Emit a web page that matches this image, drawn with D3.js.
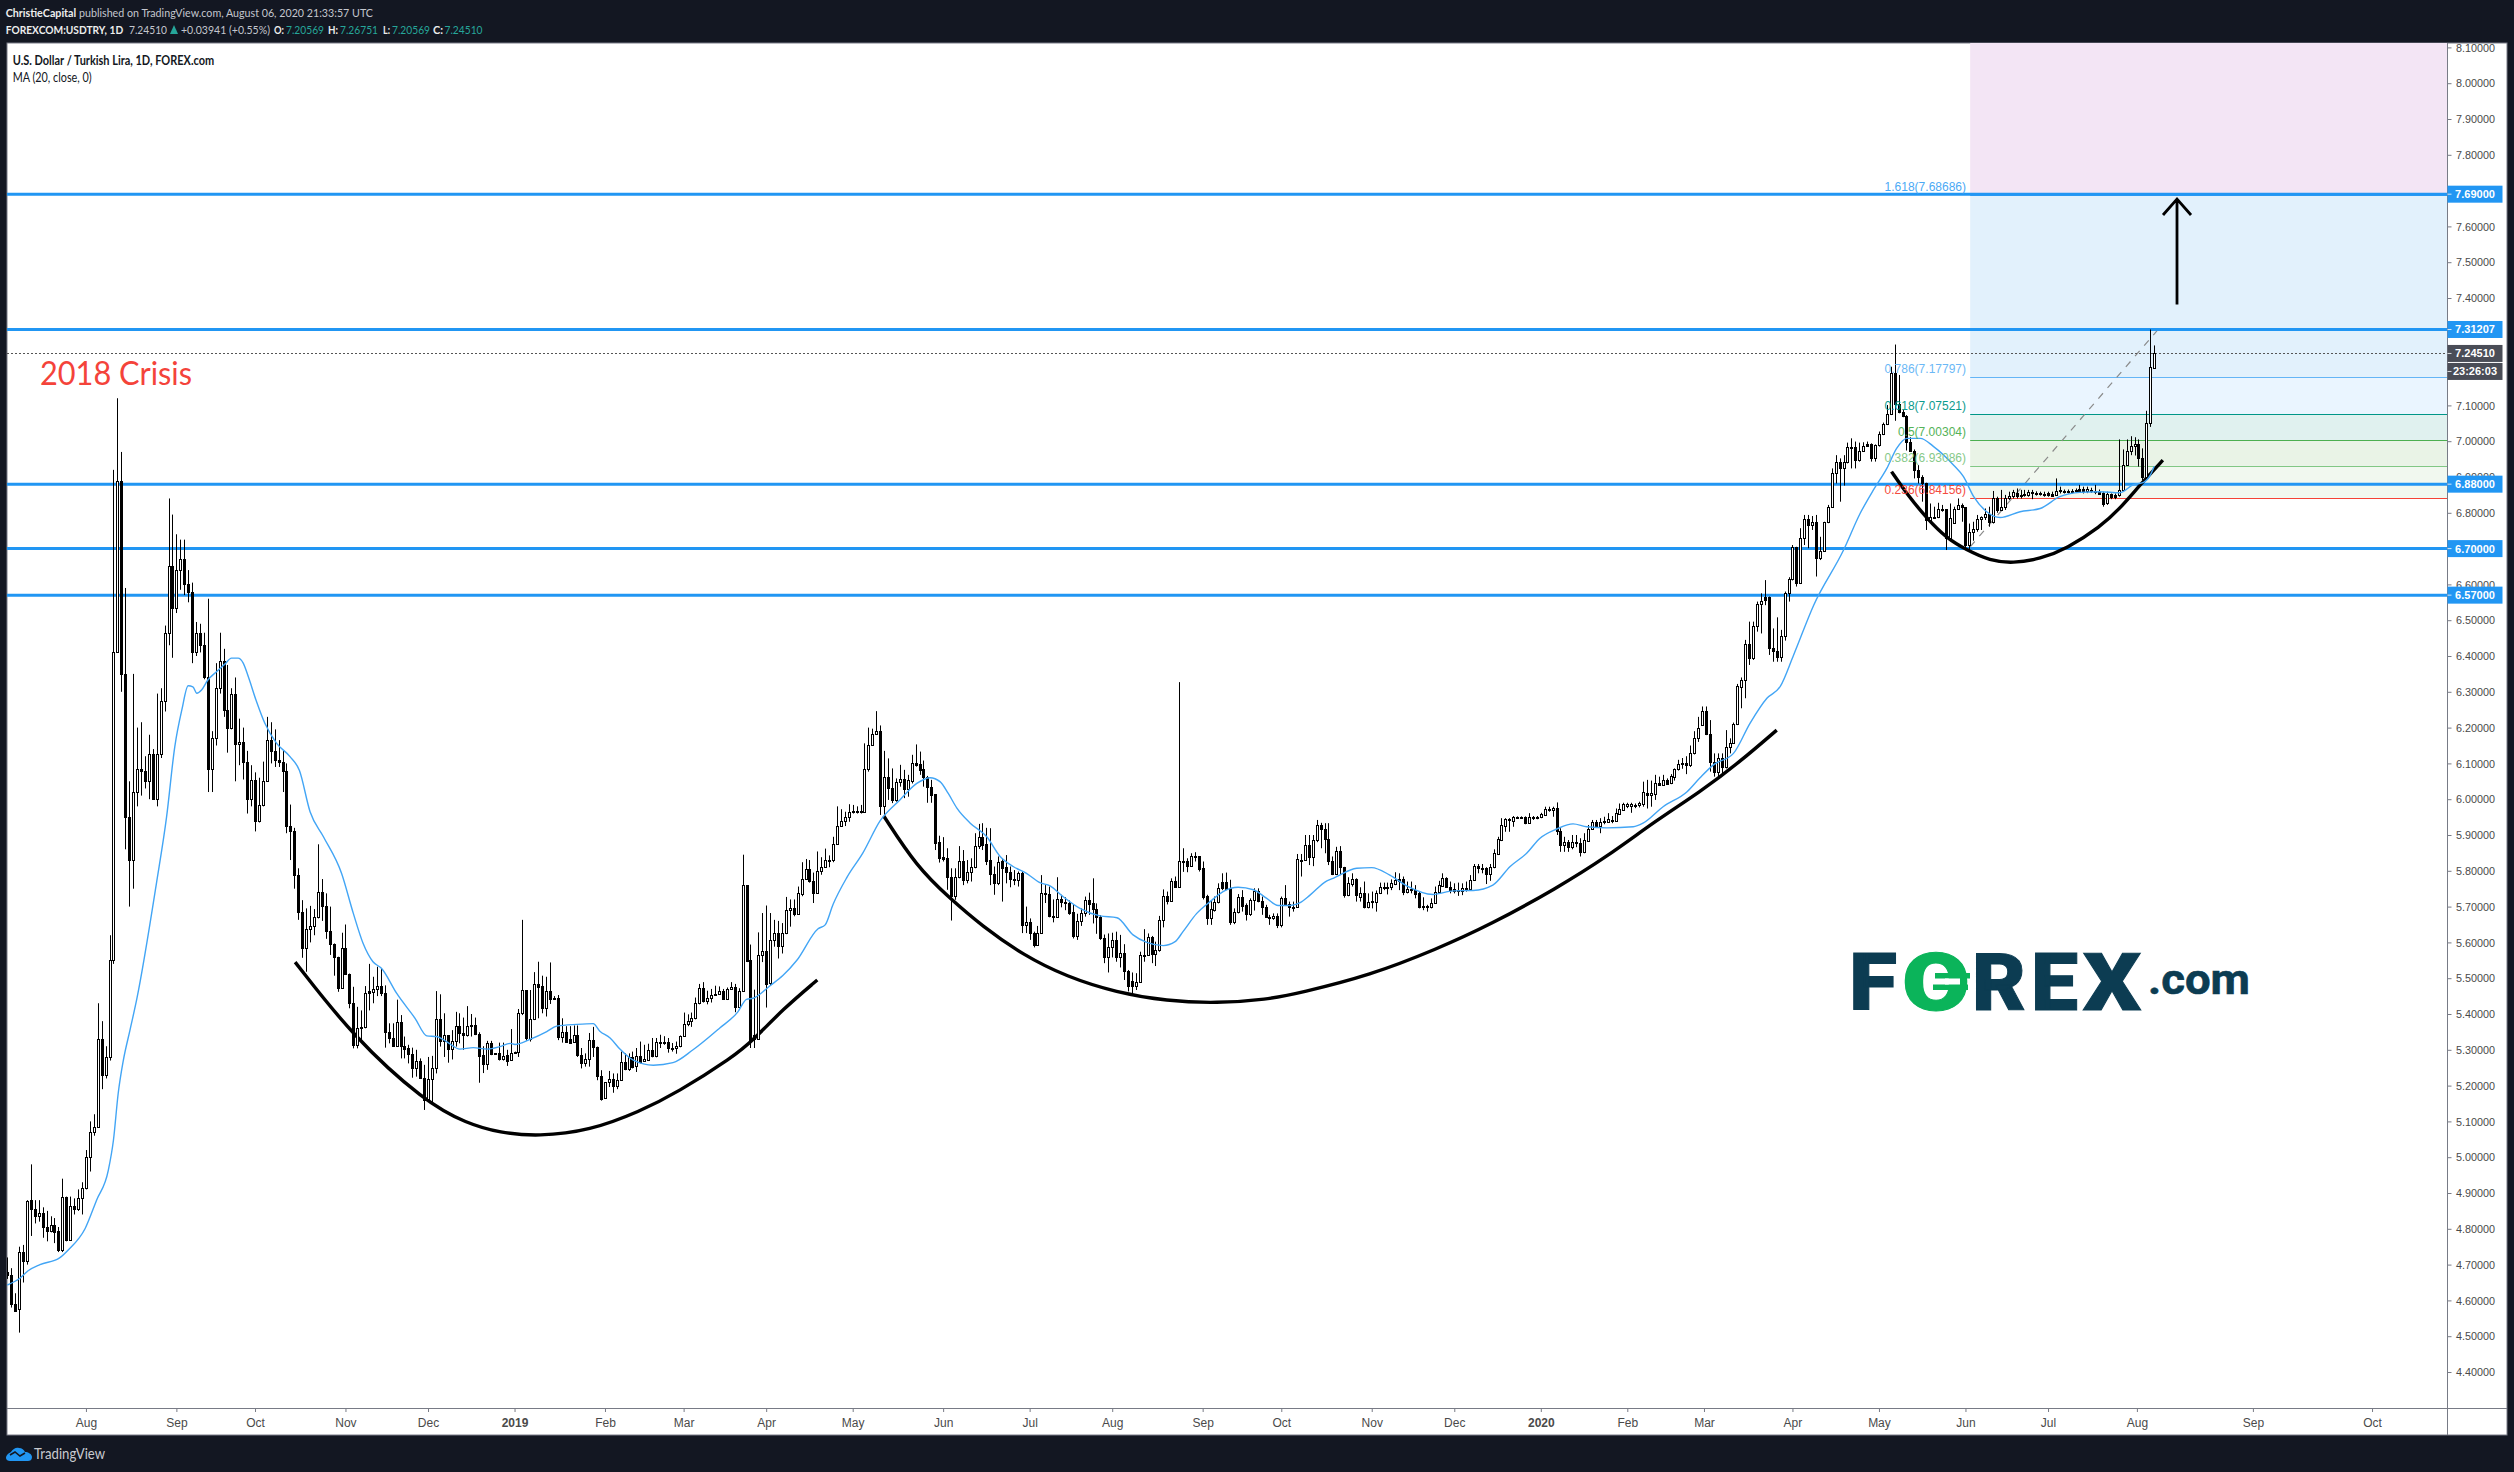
<!DOCTYPE html>
<html><head><meta charset="utf-8">
<script src="https://cdn.jsdelivr.net/npm/d3@7/dist/d3.min.js"></script>
<style>html,body{margin:0;padding:0;background:#131722;overflow:hidden}svg{display:block}</style>
</head><body><svg id="c" width="2514" height="1472"></svg>
<script>
// Daily candles: [open, high, low, close]
const bars2018 = [
[4.68,4.72,4.66,4.67],[4.67,4.69,4.58,4.59],[4.59,4.62,4.57,4.57],[4.575,4.75,4.51,4.735],[4.735,4.755,4.65,4.71],
[4.71,4.88,4.70,4.878],[4.88,4.98,4.78,4.855],[4.855,4.88,4.815,4.835],[4.835,4.88,4.82,4.845],[4.845,4.86,4.775,4.805],
[4.805,4.85,4.765,4.795],[4.795,4.835,4.79,4.81],[4.81,4.83,4.76,4.79],[4.795,4.805,4.735,4.74],[4.74,4.94,4.735,4.89],
[4.89,4.89,4.765,4.77],[4.77,4.89,4.77,4.865],[4.865,4.885,4.84,4.855],[4.855,4.91,4.85,4.885],[4.885,4.93,4.84,4.915],
[4.915,5.02,4.91,5.0],[5.0,5.1,4.96,5.07],[5.07,5.12,5.06,5.085],[5.085,5.43,5.085,5.33],[5.33,5.38,5.19,5.23],
[5.23,5.31,5.22,5.28],[5.28,5.62,5.27,5.55],[5.55,6.92,5.54,6.41],[6.41,7.12,6.41,6.89],[6.89,6.97,6.30,6.35],
[6.35,6.59,5.86,5.95],[5.95,6.05,5.70,5.83],[5.83,6.35,5.75,6.02],[6.02,6.20,5.98,6.085],[6.085,6.215,6.01,6.08],
[6.08,6.12,6.03,6.05],[6.05,6.18,6.0,6.125],[6.125,6.14,6.0,6.0],[6.0,6.295,5.98,6.125],[6.125,6.31,6.115,6.275],
[6.275,6.485,6.245,6.465],[6.465,6.84,6.43,6.65],[6.65,6.795,6.395,6.535],[6.535,6.74,6.52,6.64],[6.64,6.725,6.585,6.67],
[6.67,6.725,6.57,6.60],[6.60,6.64,6.55,6.58],[6.58,6.605,6.38,6.41],[6.41,6.495,6.40,6.465],[6.465,6.49,6.41,6.43],
[6.43,6.465,6.335,6.34],[6.34,6.56,6.02,6.085],[6.085,6.19,6.02,6.17],[6.17,6.38,6.15,6.31],[6.31,6.465,6.295,6.385],
[6.385,6.42,6.23,6.25],[6.25,6.375,6.13,6.20],[6.20,6.31,6.195,6.295],[6.295,6.34,6.05,6.155],[6.155,6.225,6.095,6.16],
[6.16,6.20,6.055,6.105],[6.105,6.135,5.96,6.0],[6.0,6.095,5.98,6.055],[6.055,6.075,5.91,5.94],[5.94,6.06,5.935,5.985],
[5.985,6.105,5.98,6.05],[6.05,6.23,6.05,6.165],[6.165,6.215,6.10,6.135],[6.135,6.195,6.09,6.11],[6.11,6.165,6.09,6.105],
[6.105,6.135,6.02,6.08],[6.08,6.10,5.905,5.925],[5.925,5.985,5.83,5.91],[5.91,5.92,5.75,5.787],[5.787,5.807,5.663,5.686],
[5.686,5.718,5.557,5.585],[5.585,5.695,5.518,5.637],[5.637,5.702,5.60,5.646],[5.646,5.693,5.62,5.67],[5.67,5.874,5.667,5.74],
[5.74,5.777,5.66,5.703],[5.703,5.737,5.61,5.633],[5.633,5.70,5.565,5.595],[5.595,5.597,5.507,5.56],[5.56,5.56,5.462,5.473],
[5.473,5.627,5.47,5.583],[5.583,5.65,5.509,5.512],[5.512,5.513,5.416,5.43],[5.43,5.476,5.304,5.313],[5.313,5.42,5.304,5.36],
[5.36,5.41,5.32,5.365],[5.363,5.478,5.36,5.46],[5.464,5.54,5.41,5.46],[5.462,5.504,5.43,5.469],[5.469,5.532,5.45,5.478],
[5.478,5.527,5.45,5.46],[5.46,5.48,5.306,5.35],[5.35,5.374,5.318,5.332],[5.332,5.374,5.31,5.31],[5.31,5.44,5.31,5.378],
[5.378,5.397,5.276,5.31],[5.31,5.337,5.276,5.303],[5.305,5.314,5.262,5.287],[5.287,5.306,5.222,5.248],[5.248,5.30,5.225,5.27],
[5.27,5.276,5.22,5.222],[5.222,5.258,5.132,5.16],[5.162,5.28,5.16,5.218],[5.218,5.283,5.15,5.25],[5.25,5.464,5.234,5.386],
[5.386,5.455,5.309,5.325],[5.325,5.402,5.28,5.341],[5.341,5.341,5.264,5.303],[5.303,5.355,5.273,5.325],[5.325,5.406,5.309,5.366],
[5.366,5.402,5.318,5.348],[5.348,5.39,5.30,5.34],[5.34,5.422,5.337,5.366],[5.366,5.40,5.337,5.37],[5.37,5.39,5.341,5.344],
[5.344,5.349,5.208,5.284],[5.285,5.31,5.235,5.26],[5.26,5.325,5.244,5.318],[5.318,5.325,5.285,5.288],[5.29,5.29,5.287,5.288],
[5.29,5.32,5.27,5.275],[5.275,5.32,5.27,5.284],[5.285,5.30,5.255,5.27],[5.272,5.358,5.27,5.29]
];
const bars2019 = [
[5.293,5.295,5.29,5.29],[5.293,5.414,5.28,5.402],[5.402,5.663,5.397,5.467],[5.467,5.467,5.325,5.332],[5.33,5.467,5.323,5.385],
[5.385,5.517,5.383,5.483],[5.483,5.546,5.388,5.476],[5.478,5.507,5.402,5.418],[5.418,5.504,5.393,5.464],[5.465,5.544,5.428,5.442],
[5.446,5.45,5.44,5.442],[5.446,5.453,5.327,5.337],[5.336,5.388,5.32,5.349],[5.349,5.366,5.32,5.323],[5.33,5.366,5.32,5.32],
[5.323,5.368,5.32,5.34],[5.342,5.368,5.28,5.286],[5.286,5.305,5.248,5.262],[5.262,5.29,5.253,5.273],[5.273,5.347,5.253,5.326],
[5.326,5.364,5.28,5.307],[5.309,5.309,5.215,5.226],[5.226,5.243,5.158,5.163],[5.165,5.21,5.163,5.21],[5.21,5.241,5.196,5.218],
[5.218,5.234,5.18,5.2],[5.2,5.234,5.19,5.215],[5.215,5.295,5.213,5.265],[5.265,5.29,5.243,5.246],[5.246,5.29,5.241,5.281],
[5.279,5.295,5.248,5.253],[5.254,5.305,5.238,5.284],[5.284,5.323,5.262,5.267],[5.27,5.314,5.267,5.273],[5.272,5.317,5.27,5.30],
[5.30,5.333,5.279,5.283],[5.283,5.333,5.279,5.322],[5.322,5.342,5.305,5.32],[5.32,5.338,5.314,5.323],[5.323,5.333,5.292,5.305],
[5.305,5.319,5.295,5.303],[5.305,5.323,5.289,5.31],[5.31,5.34,5.307,5.338],[5.338,5.404,5.336,5.373],[5.373,5.399,5.366,5.38],
[5.38,5.404,5.364,5.388],[5.388,5.446,5.385,5.43],[5.43,5.484,5.427,5.474],[5.474,5.489,5.432,5.437],[5.437,5.465,5.427,5.446],
[5.446,5.47,5.432,5.454],[5.455,5.479,5.451,5.456],[5.456,5.477,5.453,5.465],[5.465,5.47,5.44,5.441],[5.441,5.474,5.439,5.47],
[5.47,5.489,5.467,5.476],[5.476,5.484,5.405,5.42],[5.42,5.472,5.418,5.465],[5.465,5.845,5.462,5.76],[5.76,5.76,5.545,5.548],
[5.55,5.594,5.305,5.328],[5.34,5.468,5.305,5.33],[5.33,5.628,5.328,5.564],[5.564,5.682,5.545,5.576],[5.576,5.703,5.418,5.484],
[5.486,5.682,5.479,5.606],[5.606,5.663,5.588,5.625],[5.625,5.66,5.555,5.59],[5.59,5.654,5.569,5.625],[5.625,5.727,5.623,5.69],
[5.69,5.72,5.644,5.696],[5.696,5.72,5.673,5.68],[5.68,5.756,5.678,5.737],[5.734,5.824,5.729,5.778],[5.778,5.833,5.776,5.805],
[5.805,5.83,5.767,5.772],[5.772,5.795,5.71,5.739],[5.739,5.854,5.737,5.80],[5.80,5.838,5.789,5.811],[5.811,5.862,5.809,5.83],
[5.83,5.843,5.81,5.83],[5.83,5.895,5.824,5.874],[5.874,5.98,5.872,5.926],[5.926,5.972,5.924,5.939],[5.939,5.965,5.925,5.95],
[5.95,5.986,5.937,5.965],[5.967,5.984,5.96,5.968],[5.966,5.98,5.96,5.968],[5.966,5.984,5.96,5.967],[5.965,6.156,5.963,6.083],
[6.083,6.20,6.077,6.152],[6.152,6.197,6.15,6.182],[6.182,6.246,6.18,6.19],[6.19,6.206,5.956,5.982],[5.981,6.135,5.956,6.061],
[6.061,6.114,5.998,6.03],[6.03,6.086,5.989,5.998],[5.998,6.058,5.993,6.047],[6.047,6.096,6.035,6.056],[6.056,6.082,6.003,6.028],
[6.028,6.068,6.007,6.054],[6.052,6.124,6.044,6.10],[6.10,6.153,6.091,6.096],[6.098,6.133,6.068,6.082],[6.084,6.108,6.035,6.063],
[6.063,6.065,5.99,6.033],[6.033,6.054,5.99,6.012],[6.014,6.014,5.858,5.879],[5.88,5.898,5.823,5.837],[5.838,5.894,5.826,5.833],
[5.835,5.863,5.747,5.782],[5.782,5.807,5.661,5.73],[5.73,5.807,5.719,5.782],[5.782,5.869,5.779,5.828],[5.828,5.858,5.76,5.774],
[5.774,5.83,5.765,5.798],[5.798,5.835,5.77,5.81],[5.81,5.905,5.807,5.868],[5.868,5.931,5.861,5.894],[5.894,5.933,5.858,5.872],
[5.875,5.92,5.816,5.828],[5.83,5.919,5.76,5.79],[5.79,5.812,5.733,5.765],[5.765,5.84,5.76,5.824],[5.826,5.835,5.714,5.807],
[5.81,5.844,5.765,5.796],[5.798,5.812,5.754,5.776],[5.776,5.802,5.76,5.773],[5.773,5.798,5.756,5.793],[5.793,5.798,5.626,5.649],
[5.649,5.70,5.626,5.658],[5.658,5.667,5.607,5.626],[5.626,5.63,5.586,5.593],[5.593,5.646,5.59,5.627],[5.627,5.788,5.625,5.737],
[5.737,5.76,5.71,5.734],[5.734,5.756,5.67,5.675],[5.675,5.72,5.656,5.672],[5.672,5.782,5.67,5.72],[5.72,5.733,5.698,5.714],
[5.714,5.726,5.69,5.709],[5.711,5.717,5.677,5.683],[5.685,5.705,5.611,5.618],[5.618,5.68,5.607,5.66],[5.66,5.695,5.646,5.681],
[5.681,5.728,5.672,5.719],[5.719,5.739,5.677,5.707],[5.709,5.779,5.653,5.692],[5.694,5.709,5.624,5.672],[5.672,5.676,5.607,5.613],
[5.613,5.622,5.542,5.56],[5.56,5.625,5.516,5.586],[5.586,5.627,5.558,5.607],[5.607,5.63,5.546,5.558],[5.558,5.621,5.53,5.571],
[5.571,5.595,5.495,5.521],[5.521,5.523,5.463,5.479],[5.493,5.516,5.453,5.479],[5.479,5.514,5.467,5.49],[5.49,5.574,5.489,5.565],
[5.565,5.637,5.546,5.566],[5.565,5.625,5.562,5.616],[5.616,5.618,5.542,5.568],[5.568,5.602,5.534,5.579],[5.579,5.674,5.574,5.663],
[5.663,5.748,5.642,5.731],[5.731,5.742,5.706,5.717],[5.717,5.779,5.714,5.772],[5.772,5.784,5.754,5.756],[5.756,6.327,5.754,5.827],
[5.827,5.863,5.797,5.828],[5.827,5.835,5.796,5.814],[5.814,5.849,5.812,5.84],[5.84,5.852,5.826,5.841],[5.84,5.84,5.798,5.805],
[5.807,5.826,5.72,5.728],[5.73,5.733,5.649,5.667],[5.667,5.716,5.649,5.692],[5.69,5.728,5.686,5.712],[5.712,5.765,5.709,5.751],
[5.769,5.793,5.746,5.751],[5.769,5.795,5.746,5.749],[5.751,5.775,5.649,5.658],[5.658,5.695,5.651,5.686],[5.686,5.735,5.681,5.728],
[5.728,5.746,5.686,5.702],[5.704,5.709,5.661,5.679],[5.679,5.723,5.674,5.719],[5.719,5.751,5.689,5.744],[5.744,5.751,5.712,5.717],
[5.717,5.728,5.677,5.70],[5.70,5.705,5.67,5.67],[5.67,5.677,5.649,5.667],[5.667,5.681,5.663,5.674],[5.674,5.681,5.64,5.649],
[5.649,5.728,5.642,5.723],[5.723,5.76,5.704,5.707],[5.707,5.714,5.672,5.698],[5.698,5.714,5.686,5.695],[5.698,5.847,5.698,5.832],
[5.83,5.847,5.784,5.831],[5.83,5.90,5.83,5.872],[5.872,5.90,5.816,5.838],[5.838,5.90,5.813,5.886],[5.886,5.942,5.88,5.928],
[5.928,5.934,5.863,5.916],[5.916,5.933,5.849,5.888],[5.888,5.933,5.816,5.826],[5.826,5.84,5.788,5.791],[5.791,5.867,5.788,5.856],
[5.856,5.869,5.788,5.81],[5.81,5.811,5.725,5.732],[5.732,5.782,5.729,5.765],[5.763,5.793,5.756,5.776],[5.776,5.779,5.714,5.732],
[5.728,5.754,5.714,5.737],[5.737,5.77,5.695,5.70],[5.70,5.737,5.695,5.714],[5.714,5.742,5.695,5.715],[5.714,5.745,5.686,5.739],
[5.737,5.767,5.735,5.754],[5.754,5.767,5.746,5.755],[5.754,5.767,5.734,5.755],[5.754,5.776,5.746,5.765],[5.763,5.796,5.76,5.774],
[5.776,5.793,5.746,5.772],[5.777,5.784,5.732,5.74],[5.74,5.77,5.737,5.748],[5.748,5.77,5.737,5.746],[5.746,5.76,5.723,5.735],
[5.737,5.742,5.695,5.698],[5.70,5.726,5.69,5.701],[5.70,5.705,5.686,5.701],[5.698,5.723,5.695,5.711],[5.711,5.756,5.709,5.742],
[5.742,5.772,5.739,5.76],[5.758,5.793,5.756,5.779],[5.779,5.782,5.754,5.756],[5.756,5.77,5.737,5.746],[5.748,5.765,5.737,5.744],
[5.744,5.767,5.73,5.745],[5.744,5.765,5.732,5.751],[5.751,5.77,5.742,5.746],[5.748,5.788,5.746,5.774],[5.774,5.819,5.772,5.814],
[5.814,5.819,5.793,5.807],[5.807,5.819,5.793,5.808],[5.809,5.81,5.763,5.791],[5.791,5.819,5.772,5.81],[5.81,5.86,5.807,5.849],
[5.847,5.895,5.844,5.889],[5.886,5.947,5.883,5.928],[5.926,5.947,5.909,5.944],[5.942,5.947,5.909,5.945],[5.94,5.953,5.923,5.951],
[5.95,5.952,5.948,5.951],[5.95,5.952,5.948,5.951],[5.95,5.952,5.93,5.933],[5.933,5.961,5.931,5.95],[5.95,5.953,5.942,5.951]
];
const bars2020 = [
[5.95,5.953,5.944,5.951],[5.95,5.962,5.947,5.959],[5.957,5.979,5.953,5.972],[5.972,5.979,5.965,5.973],[5.97,5.979,5.951,5.975],
[5.975,5.991,5.90,5.91],[5.91,5.919,5.853,5.872],[5.872,5.895,5.853,5.881],[5.881,5.886,5.853,5.866],[5.866,5.90,5.86,5.881],
[5.881,5.90,5.866,5.877],[5.877,5.891,5.84,5.852],[5.852,5.905,5.849,5.886],[5.884,5.928,5.881,5.917],[5.917,5.942,5.914,5.937],
[5.937,5.942,5.923,5.926],[5.926,5.947,5.905,5.935],[5.937,5.951,5.93,5.938],[5.936,5.961,5.934,5.944],[5.942,5.953,5.933,5.943],
[5.94,5.974,5.937,5.961],[5.96,5.988,5.956,5.972],[5.97,5.99,5.968,5.987],[5.982,5.99,5.975,5.986],[5.98,5.99,5.962,5.987],
[5.984,5.988,5.975,5.985],[5.984,5.993,5.977,5.988],[5.987,6.049,5.979,6.021],[6.016,6.054,5.974,6.012],[6.012,6.052,5.979,6.016],
[6.014,6.068,5.998,6.044],[6.044,6.063,6.037,6.04],[6.04,6.068,6.037,6.055],[6.055,6.058,6.04,6.042],[6.044,6.07,6.042,6.066],
[6.063,6.086,6.052,6.084],[6.083,6.11,6.08,6.098],[6.098,6.115,6.085,6.10],[6.10,6.12,6.07,6.095],[6.095,6.15,6.09,6.13],
[6.13,6.19,6.125,6.17],[6.17,6.23,6.16,6.20],[6.207,6.259,6.205,6.245],[6.247,6.259,6.179,6.181],[6.182,6.221,6.077,6.105],
[6.105,6.128,6.063,6.077],[6.077,6.128,6.063,6.114],[6.114,6.128,6.068,6.09],[6.09,6.193,6.086,6.145],[6.145,6.17,6.128,6.158],
[6.158,6.214,6.156,6.21],[6.21,6.322,6.207,6.316],[6.314,6.34,6.254,6.333],[6.333,6.445,6.282,6.433],[6.433,6.496,6.375,6.395],
[6.395,6.496,6.389,6.484],[6.484,6.552,6.468,6.544],[6.544,6.575,6.463,6.555],[6.564,6.612,6.542,6.556],[6.566,6.566,6.403,6.421],
[6.421,6.477,6.384,6.415],[6.415,6.508,6.384,6.398],[6.398,6.473,6.384,6.456],[6.456,6.58,6.443,6.577],[6.577,6.62,6.552,6.614],
[6.614,6.71,6.611,6.705],[6.705,6.705,6.594,6.603],[6.603,6.757,6.601,6.729],[6.729,6.794,6.71,6.782],[6.782,6.794,6.701,6.766],
[6.766,6.791,6.752,6.773],[6.773,6.794,6.622,6.673],[6.673,6.733,6.668,6.693],[6.693,6.775,6.691,6.773],[6.773,6.822,6.771,6.815],
[6.815,6.924,6.814,6.912],[6.912,6.961,6.882,6.941],[6.941,6.952,6.831,6.924],[6.924,6.961,6.876,6.941],[6.941,6.996,6.938,6.983],
[6.983,7.008,6.924,6.984],[6.983,6.999,6.924,6.947],[6.947,6.996,6.943,6.973],[6.973,6.997,6.971,6.987],[6.991,6.999,6.985,6.987],
[6.991,6.994,6.943,6.952],[6.952,6.991,6.943,6.989],[6.989,7.027,6.985,7.019],[7.019,7.052,7.017,7.047],[7.047,7.101,7.045,7.075],
[7.075,7.208,7.073,7.19],[7.19,7.27,7.057,7.104],[7.104,7.185,7.078,7.082],[7.082,7.087,7.067,7.071],[7.071,7.073,6.974,6.999],
[6.999,7.011,6.971,6.974],[6.974,6.977,6.896,6.92],[6.92,6.933,6.882,6.901],[6.901,6.905,6.831,6.884],[6.884,6.884,6.752,6.78],
[6.78,6.826,6.775,6.789],[6.789,6.817,6.784,6.787],[6.787,6.828,6.785,6.811],[6.811,6.822,6.803,6.81],[6.81,6.81,6.696,6.729],
[6.729,6.826,6.726,6.785],[6.772,6.817,6.77,6.81],[6.81,6.84,6.808,6.822],[6.822,6.826,6.775,6.815],[6.815,6.815,6.696,6.71],
[6.71,6.77,6.691,6.745],[6.745,6.775,6.722,6.755],[6.755,6.794,6.747,6.783],[6.783,6.79,6.752,6.787],[6.787,6.812,6.78,6.798],
[6.798,6.817,6.761,6.775],[6.775,6.861,6.77,6.84],[6.84,6.845,6.80,6.808],[6.808,6.864,6.806,6.817],[6.817,6.85,6.808,6.84],
[6.84,6.859,6.836,6.847],[6.847,6.864,6.84,6.857],[6.856,6.868,6.84,6.848],[6.85,6.864,6.84,6.851],[6.853,6.864,6.845,6.849],
[6.849,6.864,6.845,6.857],[6.858,6.864,6.838,6.854],[6.854,6.86,6.848,6.855],[6.854,6.859,6.848,6.855],[6.852,6.859,6.845,6.853],
[6.854,6.859,6.845,6.85],[6.853,6.859,6.845,6.848],[6.85,6.896,6.85,6.862],[6.864,6.873,6.854,6.86],[6.86,6.865,6.854,6.861],
[6.86,6.865,6.854,6.861],[6.861,6.866,6.854,6.862],[6.864,6.868,6.856,6.86],[6.866,6.878,6.856,6.861],[6.866,6.873,6.854,6.861],
[6.861,6.873,6.855,6.866],[6.862,6.87,6.856,6.863],[6.862,6.878,6.852,6.858],[6.858,6.865,6.85,6.853],[6.854,6.859,6.817,6.825],
[6.826,6.859,6.822,6.852],[6.852,6.854,6.838,6.843],[6.85,6.854,6.838,6.843],[6.85,7.005,6.845,6.864],[6.864,6.977,6.861,6.933],
[6.933,7.005,6.932,6.973],[6.973,7.014,6.961,6.987],[6.987,7.011,6.96,6.991],[6.991,7.005,6.929,6.952],[6.952,6.98,6.891,6.901],
[6.901,7.085,6.899,7.05],[7.05,7.312,7.04,7.206],[7.20569,7.26751,7.20569,7.2451]
];

// 20-day moving average
const maBars = [0,3.2,5.3,8.3,13.2,15.5,19.8,22.7,25.7,27,28.2,29.5,31.2,32.9,38,40.5,42.6,44.4,46,47.2,48.2,49.4,51,53.2,55.4,57,58.7,60,61.3,63.4,65.5,68.5,71.9,74.3,77,80.4,85,88,90.5,93,95.2,99,103.7,106.7,109.2,111.7,115.1,118.5,122,125.3,127.9,129.1,132.9,137.2,139.7,144.8,149,150.7,153.3,155.8,159.2,164.3,169.3,174.4,181.2,185.8,188,189.7,194,197.3,200.8,206.2,208,210,213.5,217.6,222,227,231.3,234.7,237.2,239.3,241.5,244.9,249.1,252.5,255.8,259.2,262.6,265.2,268.5,272.8,277.9,282.2,286.3,289.8,294,297,299,302.5,305.9,309.2,313,316.9,320.3,323.2,326.2,328.8,331.3,335.6,337.2,343.2,347,351.6,355.9,362.6,367.7,372.8,377.8,382.2,386.4,389.8,394.1,398.2,401.7,406.8,413.5,416,421.1,427.2,430.5,433.9,439,443.2,447.5,450.9,454.3,459.4,467,471.2,474.6,478,480.5,483.1,486.5,489.9,495,497.5,500.1,503.4,506.8,511.9,517,522,527.1,532.2,537.3,540.6,543.3,545,546];
const maValues = [4.643,4.662,4.683,4.70,4.718,4.741,4.801,4.88,4.964,5.048,5.178,5.27,5.355,5.44,5.77,5.95,6.147,6.25,6.317,6.314,6.296,6.305,6.333,6.356,6.378,6.394,6.394,6.38,6.342,6.272,6.212,6.156,6.119,6.08,5.965,5.895,5.793,5.681,5.597,5.546,5.527,5.458,5.388,5.339,5.337,5.323,5.302,5.306,5.302,5.309,5.318,5.315,5.329,5.351,5.366,5.371,5.373,5.352,5.333,5.302,5.271,5.257,5.264,5.30,5.361,5.406,5.441,5.444,5.479,5.508,5.55,5.638,5.649,5.706,5.781,5.85,5.94,5.998,6.044,6.06,6.049,6.016,5.975,5.933,5.895,5.84,5.812,5.793,5.767,5.758,5.728,5.695,5.674,5.669,5.621,5.60,5.591,5.602,5.63,5.681,5.714,5.742,5.754,5.747,5.723,5.703,5.703,5.711,5.732,5.772,5.779,5.807,5.809,5.788,5.758,5.734,5.744,5.745,5.76,5.812,5.849,5.891,5.917,5.931,5.923,5.92,5.923,5.933,5.979,6.021,6.06,6.096,6.128,6.212,6.282,6.315,6.403,6.542,6.696,6.798,6.864,6.924,6.98,7.008,7.008,6.985,6.933,6.901,6.845,6.803,6.787,6.803,6.812,6.845,6.857,6.859,6.856,6.878,6.885,6.905,6.93];

// Hand-drawn arcs, in bar number and price
const arc1Bars = [73.2,88,106.2,116.9,125.3,135,148.2,160.9,170.3,184.6,189.7,197.3,206];
const arc1Prices = [5.545,5.336,5.155,5.094,5.068,5.058,5.074,5.128,5.18,5.28,5.327,5.414,5.495];
const arc2Bars = [222.9,231.3,239.7,248.1,258.3,269.4,282.1,294.9,307.6,320.3,328.8,346.6,363.5,377.1,394,406.8,419.5,430.5,440.7,450];
const arc2Prices = [5.953,5.811,5.723,5.644,5.565,5.504,5.46,5.436,5.43,5.44,5.459,5.508,5.581,5.649,5.751,5.839,5.942,6.02,6.105,6.193];
const arc3Bars = [479.2,483,488.2,493.2,498.3,504.2,510.1,517,523.8,532.3,537.3,542.4,548.2];
const arc3Prices = [6.915,6.854,6.784,6.729,6.696,6.666,6.659,6.671,6.70,6.761,6.812,6.878,6.947];

const supportLevels = [7.69,7.31207,6.88,6.70,6.57];
const supportText = ["7.69000","7.31207","6.88000","6.70000","6.57000"];
const fibRatios = ["1.618","0.786","0.618","0.5","0.382","0.236"];
const fibPrices = [7.68686,7.17797,7.07521,7.00304,6.93086,6.84156];
const fibColors = ["#42a5f5","#64b5f6","#009688","#4caf50","#81c784","#f44336"];
const fibFills = ["#e2f1fc","#eaf5ff","#e0f1ef","#e9f3e6","#f1f8ef"];
const fibStartBar = 499.2;
const fibTrendBars = [499.2,547];
const fibTrendPrices = [6.705,7.31207];
const lastPrice = 7.2451;
const arrowBar = 551.8;
const arrowPrices = [7.382,7.682];

const priceTicks = d3.range(44,82).map(d=>d/10);
const monthBars = [20,43,63,86,107,129,152,172,193,215,238,260,281,304,324,347,368,390,412,431.5,454,476,498,519,541.6,571.1,601.4];
const monthLabels = ["Aug","Sep","Oct","Nov","Dec","2019","Feb","Mar","Apr","May","Jun","Jul","Aug","Sep","Oct","Nov","Dec","2020","Feb","Mar","Apr","May","Jun","Jul","Aug","Sep","Oct"];

// ---- drawing ----
const bars = bars2018.concat(bars2019,bars2020);
const W=2514,H=1472, L=7,T=43,R=2447.5,B=1408, OR=2507, OB=1435;
const x = d3.scaleLinear().domain([0,bars.length-1]).range([7.3,2154.2]);
const y = d3.scaleLinear().domain([4.4,8.1]).range([1372,47.4]);
const endBar = x.invert(R);
const svg = d3.select("#c");
const SANS = "'Liberation Sans',Arial,sans-serif", HUM = "'Liberation Sans Narrow',Lato,'Open Sans',sans-serif";

svg.append("rect").attr("width",W).attr("height",H).attr("fill","#131722");
svg.append("rect").attr("x",L).attr("y",T).attr("width",OR-L).attr("height",OB-T).attr("fill","#fff").attr("stroke","#787b86").attr("stroke-width",1);
svg.append("clipPath").attr("id","pc").append("rect").attr("x",L).attr("y",T).attr("width",R-L).attr("height",B-T);
const plot = svg.append("g").attr("clip-path","url(#pc)");

// fib zones
const fibX0=x(fibStartBar), fibX1=x(endBar);
plot.append("rect").attr("x",fibX0).attr("y",T).attr("width",fibX1-fibX0).attr("height",y(fibPrices[0])-T).attr("fill","#f3e5f5");
plot.selectAll("rect.fz").data(fibFills).enter().append("rect").attr("class","fz")
  .attr("x",fibX0).attr("width",fibX1-fibX0)
  .attr("y",(d,i)=>y(fibPrices[i])).attr("height",(d,i)=>y(fibPrices[i+1])-y(fibPrices[i])).attr("fill",d=>d);
plot.selectAll("line.fl").data(fibPrices).enter().append("line").attr("class","fl")
  .attr("x1",fibX0).attr("x2",fibX1).attr("y1",d=>Math.round(y(d))+.5).attr("y2",d=>Math.round(y(d))+.5)
  .attr("stroke",(d,i)=>fibColors[i]).attr("stroke-width",1.2);
plot.append("line").attr("x1",x(fibTrendBars[0])).attr("y1",y(fibTrendPrices[0])).attr("x2",x(fibTrendBars[1])).attr("y2",y(fibTrendPrices[1]))
  .attr("stroke","#8a8a8a").attr("stroke-width",1.2).attr("stroke-dasharray","7 7");

// support lines
plot.selectAll("line.sl").data(supportLevels).enter().append("line").attr("class","sl")
  .attr("x1",L).attr("x2",R).attr("y1",d=>y(d)).attr("y2",d=>y(d)).attr("stroke","#2196f3").attr("stroke-width",3);
// last price dotted
plot.append("line").attr("x1",L).attr("x2",R).attr("y1",Math.round(y(lastPrice))+.5).attr("y2",Math.round(y(lastPrice))+.5)
  .attr("stroke","#555").attr("stroke-dasharray","2 2");

// arcs
const arc = d3.line().x(d=>x(d[0])).y(d=>y(d[1])).curve(d3.curveBasis);
[[arc1Bars,arc1Prices],[arc2Bars,arc2Prices],[arc3Bars,arc3Prices]].forEach(([b,p])=>{
  plot.append("path").attr("d",arc(b.map((v,i)=>[v,p[i]]))).attr("fill","none").attr("stroke","#000").attr("stroke-width",3.4);
});

// candles
const cg = plot.append("g");
bars.forEach((b,i)=>{
  const [o,h,l,c]=b, px=Math.round(x(i));
  cg.append("line").attr("x1",px+.5).attr("x2",px+.5).attr("y1",y(h)).attr("y2",y(l)).attr("stroke","#000").attr("stroke-width",1);
  const top=Math.round(y(Math.max(o,c))), bot=Math.round(y(Math.min(o,c)));
  if(c>=o){
    cg.append("rect").attr("x",px-.5).attr("y",top+.5).attr("width",2).attr("height",Math.max(1,bot-top)).attr("fill","#fff").attr("stroke","#000").attr("stroke-width",1);
  }else{
    cg.append("rect").attr("x",px-1).attr("y",top).attr("width",3).attr("height",Math.max(2,bot-top+1)).attr("fill","#000");
  }
});

// moving average
plot.append("path").attr("d",d3.line().x(d=>x(d[0])).y(d=>y(d[1])).curve(d3.curveMonotoneX)(maBars.map((v,i)=>[v,maValues[i]])))
  .attr("fill","none").attr("stroke","#42a5f5").attr("stroke-width",1.4);

// fib labels
svg.selectAll("text.fb").data(fibPrices).enter().append("text").attr("class","fb")
  .attr("x",1966).attr("y",d=>y(d)-4).attr("text-anchor","end")
  .attr("font-family",SANS).attr("font-size",12).attr("fill",(d,i)=>fibColors[i]).attr("opacity",.95)
  .text((d,i)=>fibRatios[i]+"("+d.toFixed(5)+")");

// arrow
const ax=x(arrowBar);
svg.append("path").attr("d",`M${ax},${y(arrowPrices[0])}V${y(arrowPrices[1])+2}M${ax-14},${y(arrowPrices[1])+18}L${ax},${y(arrowPrices[1])+2}L${ax+14},${y(arrowPrices[1])+18}`)
  .attr("fill","none").attr("stroke","#000").attr("stroke-width",2.8);

// axes
const yAxis = d3.axisRight(y).tickValues(priceTicks).tickSize(4).tickPadding(4.5).tickFormat(d3.format(".5f"));
const ga = svg.append("g").attr("transform",`translate(${R},0)`).call(yAxis);
ga.select(".domain").remove();
ga.selectAll("line").attr("stroke","#787b86");
ga.selectAll("text").attr("font-family",SANS).attr("font-size",11.5).attr("fill","#4a4a4a").attr("textLength",39).attr("lengthAdjust","spacingAndGlyphs");
const xAxis = d3.axisBottom(x).tickValues(monthBars).tickSize(4).tickPadding(6.5).tickFormat((d,i)=>monthLabels[i]);
const gx = svg.append("g").attr("transform",`translate(0,${B})`).call(xAxis);
gx.select(".domain").remove();
gx.selectAll("line").attr("stroke","#787b86");
gx.selectAll("text").attr("font-family",SANS).attr("font-size",12).attr("fill","#4a4a4a").attr("font-weight",(d,i)=>/^20/.test(monthLabels[i])?700:400);
svg.append("path").attr("d",`M${L},${B+.5}H${OR}M${R},${T}V${OB}`).attr("stroke","#787b86").attr("fill","none");

// axis labels
function tag(price,txt,fill,yc){
  const yy=yc===undefined?y(price):yc;
  svg.append("rect").attr("x",R).attr("y",yy-8.5).attr("width",55).attr("height",17).attr("fill",fill);
  svg.append("line").attr("x1",R).attr("x2",R+4).attr("y1",yy).attr("y2",yy).attr("stroke","#fff").attr("opacity",.8);
  svg.append("text").attr("x",R+27.5).attr("y",yy+4).attr("text-anchor","middle").attr("font-family",SANS).attr("font-weight",700).attr("font-size",11).attr("fill","#fff").text(txt);
}
supportLevels.forEach((v,i)=>tag(v,supportText[i],"#2196f3"));
tag(lastPrice,"7.24510","#4a4d57");
tag(null,"23:26:03","#4a4d57",y(lastPrice)+18);

// header
function seg(x0,yy,str,w,fill,bold,fs,fam){
  return svg.append("text").attr("x",x0).attr("y",yy).attr("font-family",fam||HUM).attr("font-size",fs||12).attr("fill",fill)
   .attr("font-weight",bold?700:400).attr("textLength",w).attr("lengthAdjust","spacingAndGlyphs").text(str);
}
const hd="#c3c6ce", tl="#26a69a", wh="#eceded";
seg(5.7,16.5,"ChristieCapital",70.5,wh,true);
seg(79,16.5,"published on TradingView.com, August 06, 2020 21:33:57 UTC",294,hd,false);
seg(5.7,34,"FOREXCOM:USDTRY, 1D",117.5,wh,true);
seg(129,34,"7.24510",38,hd,false);
svg.append("path").attr("d",d3.line()([[170,34],[174,25],[178,34]])+"Z").attr("fill",tl);
seg(181,34,"+0.03941 (+0.55%)",89,hd,false);
seg(274,34,"O:",10,wh,true); seg(286,34,"7.20569",38,tl,false);
seg(328,34,"H:",10,wh,true); seg(340,34,"7.26751",38,tl,false);
seg(383,34,"L:",7,wh,true);  seg(392,34,"7.20569",38,tl,false);
seg(433,34,"C:",10,wh,true); seg(444.5,34,"7.24510",38,tl,false);
seg(12.7,65,"U.S. Dollar / Turkish Lira, 1D, FOREX.com",201.5,"#131722",true,13);
seg(12.7,82,"MA (20, close, 0)",79,"#131722",false,13);

seg(40,384.5,"2018 Crisis",152,"#f4433a",false,33,"Lato,'Open Sans',sans-serif");

// FOREX.com logo
const navy="#0c3c52", green="#0bb45a";
const lg=svg.append("g");
function big(t,x0,w,f){lg.append("text").attr("x",x0).attr("y",1010).attr("font-family","Roboto,'Liberation Sans',sans-serif").attr("font-weight",900).attr("font-size",80)
  .attr("fill",f).attr("stroke",f).attr("stroke-width",1).attr("textLength",w).attr("lengthAdjust","spacingAndGlyphs").text(t);}
big("F",1849,48,navy); big("R",1972,54,navy); big("E",2031,47,navy); big("X",2083,58,navy);
big("O",1902,68,green);
lg.append("rect").attr("x",1935).attr("y",973).attr("width",35).attr("height",5.5).attr("fill",green);
lg.append("rect").attr("x",1933).attr("y",984.5).attr("width",35).attr("height",5.5).attr("fill",green);
lg.append("rect").attr("x",1945).attr("y",978.5).attr("width",15).attr("height",6).attr("fill","#fff");
lg.append("text").attr("x",2148).attr("y",994).attr("font-family","Roboto,'Liberation Sans',sans-serif").attr("font-weight",700).attr("font-size",42).attr("fill",navy)
  .attr("stroke",navy).attr("stroke-width",.6).attr("textLength",102).attr("lengthAdjust","spacingAndGlyphs").text(".com");

// footer
svg.append("path").attr("d","M6,1458c0-3,3-5,5-6c2-3,5-5,8-4c3,0,5,2,6,4c3,0,7,2,7,5c0,3-2,4-4,4H10c-2,0-4-1-4-3z").attr("fill","#2196f3");
svg.append("path").attr("d","M10,1455l5,-3l5,4l5,-3").attr("fill","none").attr("stroke","#131722").attr("stroke-width",1.6);
seg(34,1459,"TradingView",71,"#c8cad0",false,15,"Lato,'Open Sans',sans-serif");
</script></body></html>
